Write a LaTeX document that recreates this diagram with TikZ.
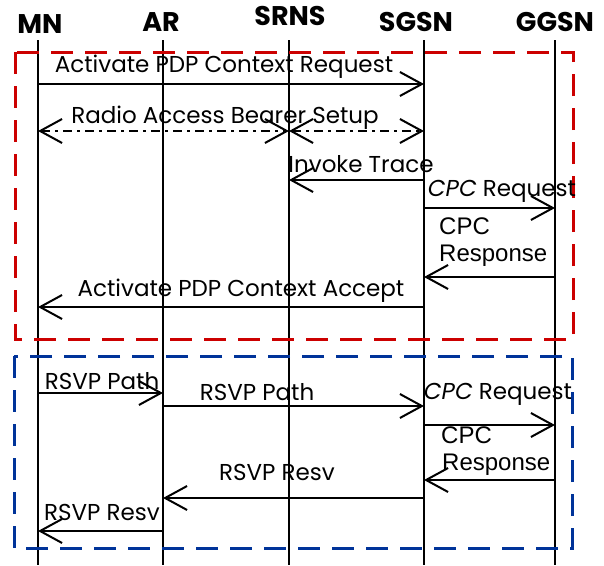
\documentclass[tikz,border=0pt]{standalone}
\usepackage{fontspec}
\setmainfont{Poppins}
\newfontfamily\arialfont{Liberation Sans}
\usetikzlibrary{arrows.meta}
\definecolor{boxred}{RGB}{204,0,0}
\definecolor{boxblue}{RGB}{0,51,153}
\tikzset{
  head/.style={font=\bfseries\fontsize{27}{29}\selectfont, inner sep=0pt},
  life/.style={line width=2pt},
  msg/.style={line width=2pt, -{Straight Barb[length=22pt,width=24pt,line width=2pt]}},
  both/.style={line width=2.5pt, dash pattern=on 9pt off 5pt on 3pt off 5pt,
    {Straight Barb[length=22pt,width=24pt,line width=2pt]}-{Straight Barb[length=22pt,width=24pt,line width=2pt]}},
  lbl/.style={font=\fontsize{23}{25}\selectfont, inner sep=0pt},
  albl/.style={font=\arialfont\fontsize{24}{27}\selectfont, inner sep=0pt, align=left},
  phase/.style={line width=3pt, dash pattern=on 22pt off 12pt},
}
\begin{document}
\begin{tikzpicture}[x=1pt,y=-1pt]
\useasboundingbox (0,0) rectangle (604,565);
% entities
\node[head] (hMN)   at (40,24)  {MN};
\node[head] (hAR)   at (161,22) {AR};
\node[head] (hSRNS) at (290,16) {SRNS};
\node[head] (hSGSN) at (416,22) {SGSN};
\node[head] (hGGSN) at (555,22) {GGSN};
% lifelines
\foreach \n/\x in {MN/38,AR/163,SRNS/289,SGSN/424,GGSN/555}{
  \coordinate (\n top) at (\x,40);
  \coordinate (\n bot) at (\x,565);
  \draw[life] (\n top) -- (\n bot);
}
% phase frames
\draw[phase, boxred] (15,52) rectangle (573,339);
\draw[phase, boxblue] (14,356) rectangle (572,548);
% PDP context activation
\coordinate (m1a) at (38,84);   \coordinate (m1b) at (424,84);
\draw[msg] (m1a) -- (m1b);
\node[lbl] (t1) at (224,67) {Activate PDP Context Request};
\coordinate (m2a) at (38,131);  \coordinate (m2b) at (289,131); \coordinate (m2c) at (424,131);
\draw[both] (m2a) -- (m2b);
\draw[both] (m2b) -- (m2c);
\node[lbl] (t2) at (225,118) {Radio Access Bearer Setup};
\coordinate (m3a) at (424,180); \coordinate (m3b) at (289,180);
\draw[msg] (m3a) -- (m3b);
\node[lbl] (t3) at (361,164) {Invoke Trace};
\coordinate (m4a) at (424,208); \coordinate (m4b) at (555,208);
\draw[msg] (m4a) -- (m4b);
\node[lbl] (t4) at (502,191) {\textit{CPC} Request};
\coordinate (m5a) at (555,277); \coordinate (m5b) at (424,277);
\draw[msg] (m5a) -- (m5b);
\node[albl, anchor=north west] (t5) at (439,218) {CPC\\Response};
\coordinate (m6a) at (424,307); \coordinate (m6b) at (38,307);
\draw[msg] (m6a) -- (m6b);
\node[lbl] (t6) at (241,291) {Activate PDP Context Accept};
% RSVP reservation
\coordinate (m7a) at (38,393);  \coordinate (m7b) at (163,393);
\draw[msg] (m7a) -- (m7b);
\node[lbl] (t7) at (102,381) {RSVP Path};
\coordinate (m8a) at (163,406); \coordinate (m8b) at (424,406);
\draw[msg] (m8a) -- (m8b);
\node[lbl] (t8) at (257,392) {RSVP Path};
\coordinate (m9a) at (424,425); \coordinate (m9b) at (555,425);
\draw[msg] (m9a) -- (m9b);
\node[lbl] (t9) at (498,394) {\textit{CPC} Request};
\coordinate (m10a) at (555,480); \coordinate (m10b) at (424,480);
\draw[msg] (m10a) -- (m10b);
\node[albl, anchor=north west] (t10) at (441,427) {CPC\\\hspace*{1pt}Response};
\coordinate (m11a) at (424,498); \coordinate (m11b) at (163,498);
\draw[msg] (m11a) -- (m11b);
\node[lbl] (t11) at (277,472) {RSVP Resv};
\coordinate (m12a) at (163,531); \coordinate (m12b) at (38,531);
\draw[msg] (m12a) -- (m12b);
\node[lbl] (t12) at (102,512) {RSVP Resv};
\end{tikzpicture}
\end{document}
